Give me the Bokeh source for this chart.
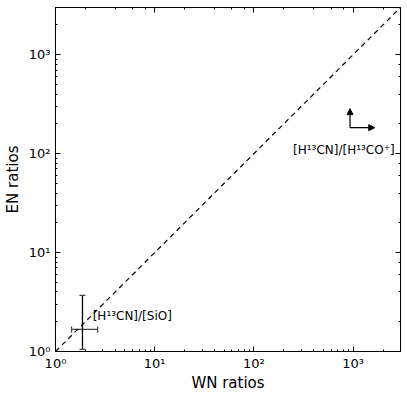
from bokeh.plotting import figure
from bokeh.models import (LogAxis, Whisker, Arrow, NormalHead, Label, ColumnDataSource,
                          TeeHead)
from bokeh.embed import file_html
from bokeh.resources import INLINE

# data
x_range = (1, 3000)
y_range = (1, 3000)
diag_x = [1, 3000]
diag_y = [1, 3000]

pt_x = [1.87]
pt_x_lo = [1.45]
pt_x_hi = [2.66]
pt_y = [1.67]
pt_y_lo = [1.05]
pt_y_hi = [3.7]
pt_label = "[H¹³CN]/[SiO]"
pt_label_x = 2.37
pt_label_y = 2.31

lim_x = 930
lim_y = 183
lim_x_end = 1650
lim_y_end = 285
lim_label = "[H¹³CN]/[H¹³CO⁺]"
lim_label_x = 248
lim_label_y = 110

tick_labels = {1: "10⁰", 10: "10¹", 100: "10²", 1000: "10³"}
blank_labels = {1: " ", 10: " ", 100: " ", 1000: " "}

FONT = "DejaVu Sans"

p = figure(x_axis_type="log", y_axis_type="log", x_range=x_range, y_range=y_range,
           frame_width=345, frame_height=344, output_backend="svg", toolbar_location=None,
           min_border_left=47, min_border_top=7, min_border_right=3, min_border_bottom=38,
           x_axis_label="WN ratios", y_axis_label="EN ratios")
p.background_fill_color = "white"
p.border_fill_color = "white"
p.outline_line_color = "black"
p.outline_line_width = 1
p.grid.visible = False


def style_axis(ax, labels=True):
    ax.major_tick_in = 5
    ax.major_tick_out = 0
    ax.minor_tick_in = 2
    ax.minor_tick_out = 0
    ax.axis_line_color = "black"
    ax.major_tick_line_color = "black"
    ax.minor_tick_line_color = "black"
    ax.major_label_text_font = FONT
    ax.major_label_text_font_size = "13px"
    ax.major_label_text_color = "black"
    ax.axis_label_text_font = FONT
    ax.axis_label_text_font_size = "15px"
    ax.axis_label_text_font_style = "normal"
    ax.axis_label_text_color = "black"
    ax.major_label_overrides = tick_labels if labels else blank_labels
    if not labels:
        ax.major_label_standoff = 0
        ax.major_label_text_font_size = "1px"


for ax in p.xaxis:
    style_axis(ax)
    ax.major_label_standoff = 4
    ax.axis_label_standoff = 0
for ax in p.yaxis:
    style_axis(ax)
    ax.major_label_standoff = 5
    ax.axis_label_standoff = 4

top = LogAxis()
style_axis(top, labels=False)
p.add_layout(top, "above")
right = LogAxis()
style_axis(right, labels=False)
p.add_layout(right, "right")

p.line(diag_x, diag_y, line_color="black", line_dash="5 4", line_width=1.2)

src = ColumnDataSource(dict(x=pt_x, xlo=pt_x_lo, xhi=pt_x_hi, y=pt_y, ylo=pt_y_lo, yhi=pt_y_hi))
p.add_layout(Whisker(source=src, base="y", lower="xlo", upper="xhi", dimension="width",
                     line_color="#444444", line_width=1.2,
                     lower_head=TeeHead(size=6, line_color="#444444", line_width=1.2),
                     upper_head=TeeHead(size=6, line_color="#444444", line_width=1.2)))
p.add_layout(Whisker(source=src, base="x", lower="ylo", upper="yhi", dimension="height",
                     line_color="black", line_width=1.3,
                     lower_head=TeeHead(size=6, line_color="#444444", line_width=1.2),
                     upper_head=TeeHead(size=6, line_color="#444444", line_width=1.2)))

p.add_layout(Label(x=pt_label_x, y=pt_label_y, text=pt_label, text_font=FONT,
                   text_font_size="12px", text_baseline="middle", text_color="black"))

p.add_layout(Arrow(x_start=lim_x, y_start=lim_y, x_end=lim_x, y_end=lim_y_end,
                   line_color="black", line_width=1.2,
                   end=NormalHead(size=6, fill_color="black", line_color="black")))
p.add_layout(Arrow(x_start=lim_x, y_start=lim_y, x_end=lim_x_end, y_end=lim_y,
                   line_color="black", line_width=1.2,
                   end=NormalHead(size=6, fill_color="black", line_color="black")))
p.add_layout(Label(x=lim_label_x, y=lim_label_y, text=lim_label, text_font=FONT,
                   text_font_size="12px", text_baseline="middle", text_color="black"))

open("out.html", "w").write(file_html(p, INLINE))
